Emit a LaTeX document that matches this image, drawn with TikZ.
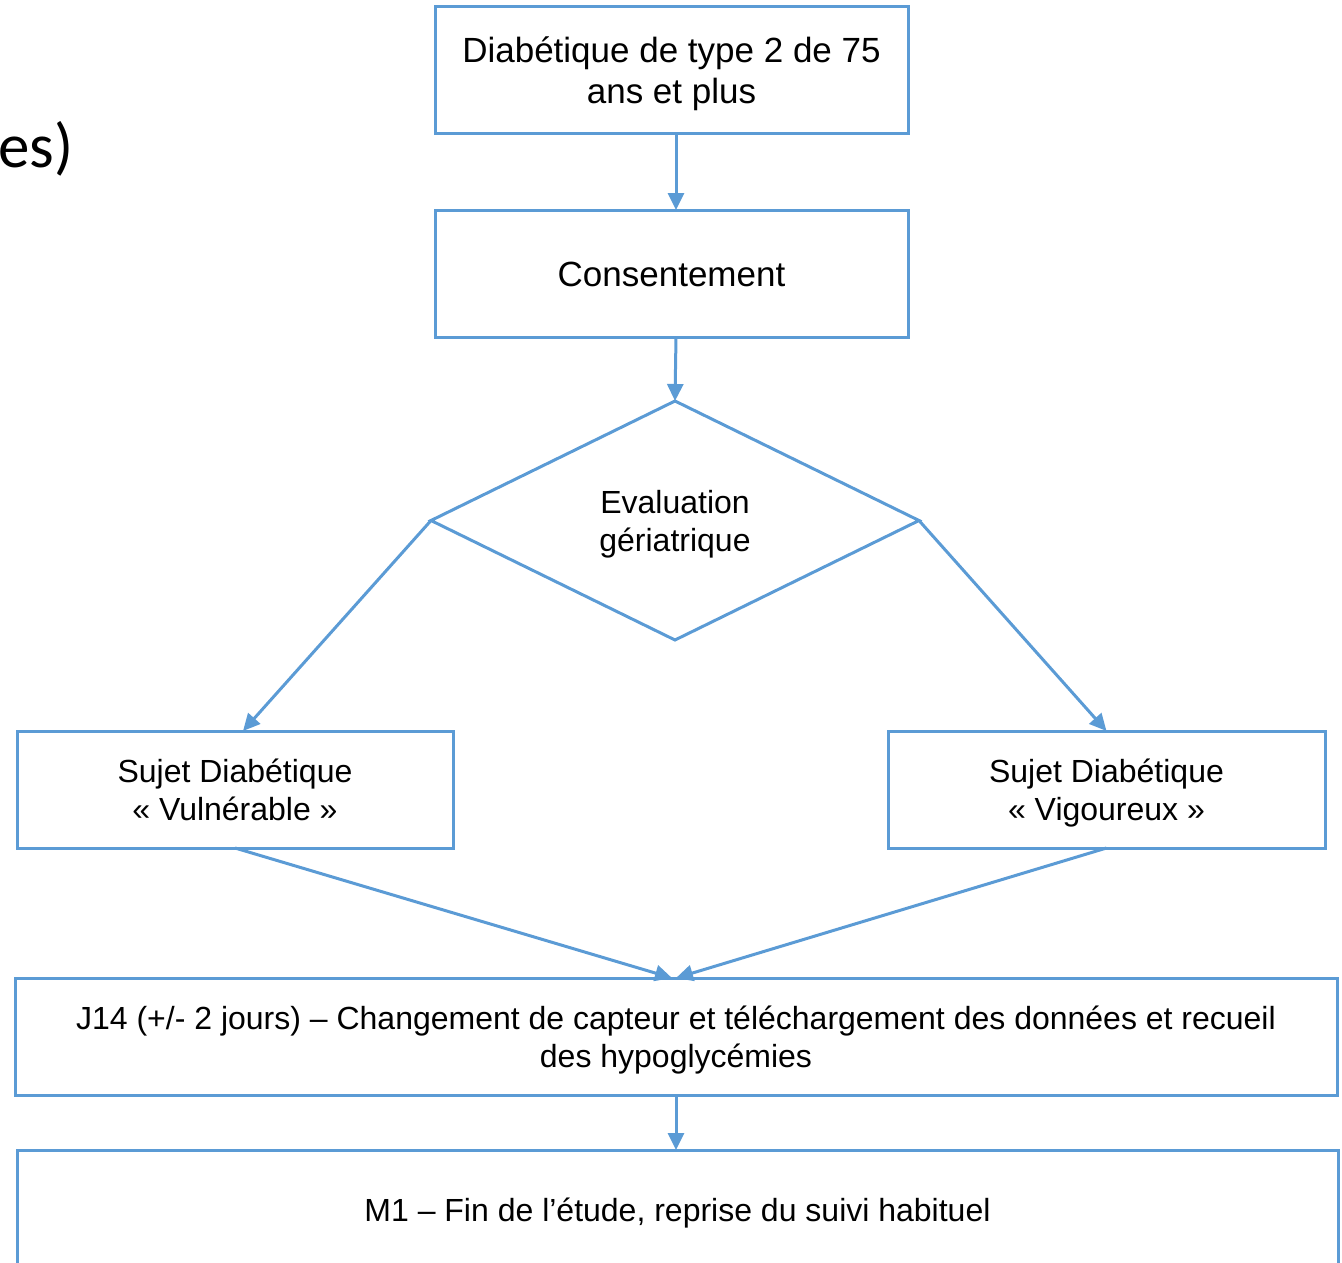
\documentclass[tikz,border=0pt]{standalone}
\usepackage{fontspec}
\setmainfont{Liberation Sans}
\newfontfamily\slidefont{Carlito}
\usetikzlibrary{shapes.geometric,arrows.meta}
\definecolor{flowblue}{HTML}{5B9BD5}
\newcommand\flowstrut{\rule[-0.2em]{0pt}{1.15em}}
\tikzset{
	box/.style={draw=flowblue, line width=3pt, inner sep=0pt, outer sep=0pt, align=center, font=\fontsize{32}{38}\selectfont},
	bigbox/.style={box, font=\fontsize{35}{40}\selectfont},
	choice/.style={box, diamond, minimum width=488pt, minimum height=239pt},
	flow/.style={draw=flowblue, line width=3pt, -{Triangle[width=16pt,length=17pt]}},
}
\begin{document}
\begin{tikzpicture}[x=1pt,y=-1pt]
	\useasboundingbox (0,0) rectangle (1342,1263);
	\clip (0,0) rectangle (1342,1263);
	\node[anchor=base east, font=\slidefont\fontsize{63}{65}\selectfont] (cut) at (77,167) {es)};
	% boxes
	\node[bigbox, minimum width=473pt, minimum height=126pt] (age) at (671.5,70) {\flowstrut Diabétique de type 2 de 75\\ans et plus\flowstrut};
	\node[bigbox, minimum width=473pt, minimum height=127pt] (cons) at (671.5,273.5) {\flowstrut Consentement};
	\node[choice] (eval) at (675,520.5) {\flowstrut Evaluation\\gériatrique\flowstrut};
	\node[box, minimum width=436pt, minimum height=117pt] (vul) at (235,789.5) {\flowstrut Sujet Diabétique\\« Vulnérable »\flowstrut};
	\node[box, minimum width=437pt, minimum height=117pt] (vig) at (1106.5,789.5) {\flowstrut Sujet Diabétique\\« Vigoureux »\flowstrut};
	\node[box, minimum width=1322pt, minimum height=117pt] (j14) at (676,1036.5) {\flowstrut J14 (+/- 2 jours) – Changement de capteur et téléchargement des données et recueil\\des hypoglycémies\flowstrut};
	\node[box, minimum width=1321pt, minimum height=120pt] (m1) at (677.5,1210) {\flowstrut M1 – Fin de l’étude, reprise du suivi habituel};
	% arrows
	\draw[flow] ([xshift=4.5pt]age.south) -- ([xshift=4.5pt]cons.north);
	\draw[flow] ([xshift=4.5pt]cons.south) -- (eval.north);
	\draw[flow] (eval.west) -- ([xshift=8pt]vul.north);
	\draw[flow] (eval.east) -- (vig.north);
	\draw[flow] (vul.south) -- ([xshift=-4pt]j14.north);
	\draw[flow] (vig.south) -- (j14.north);
	\draw[flow] (j14.south) -- (j14.south |- m1.north);
\end{tikzpicture}
\end{document}
